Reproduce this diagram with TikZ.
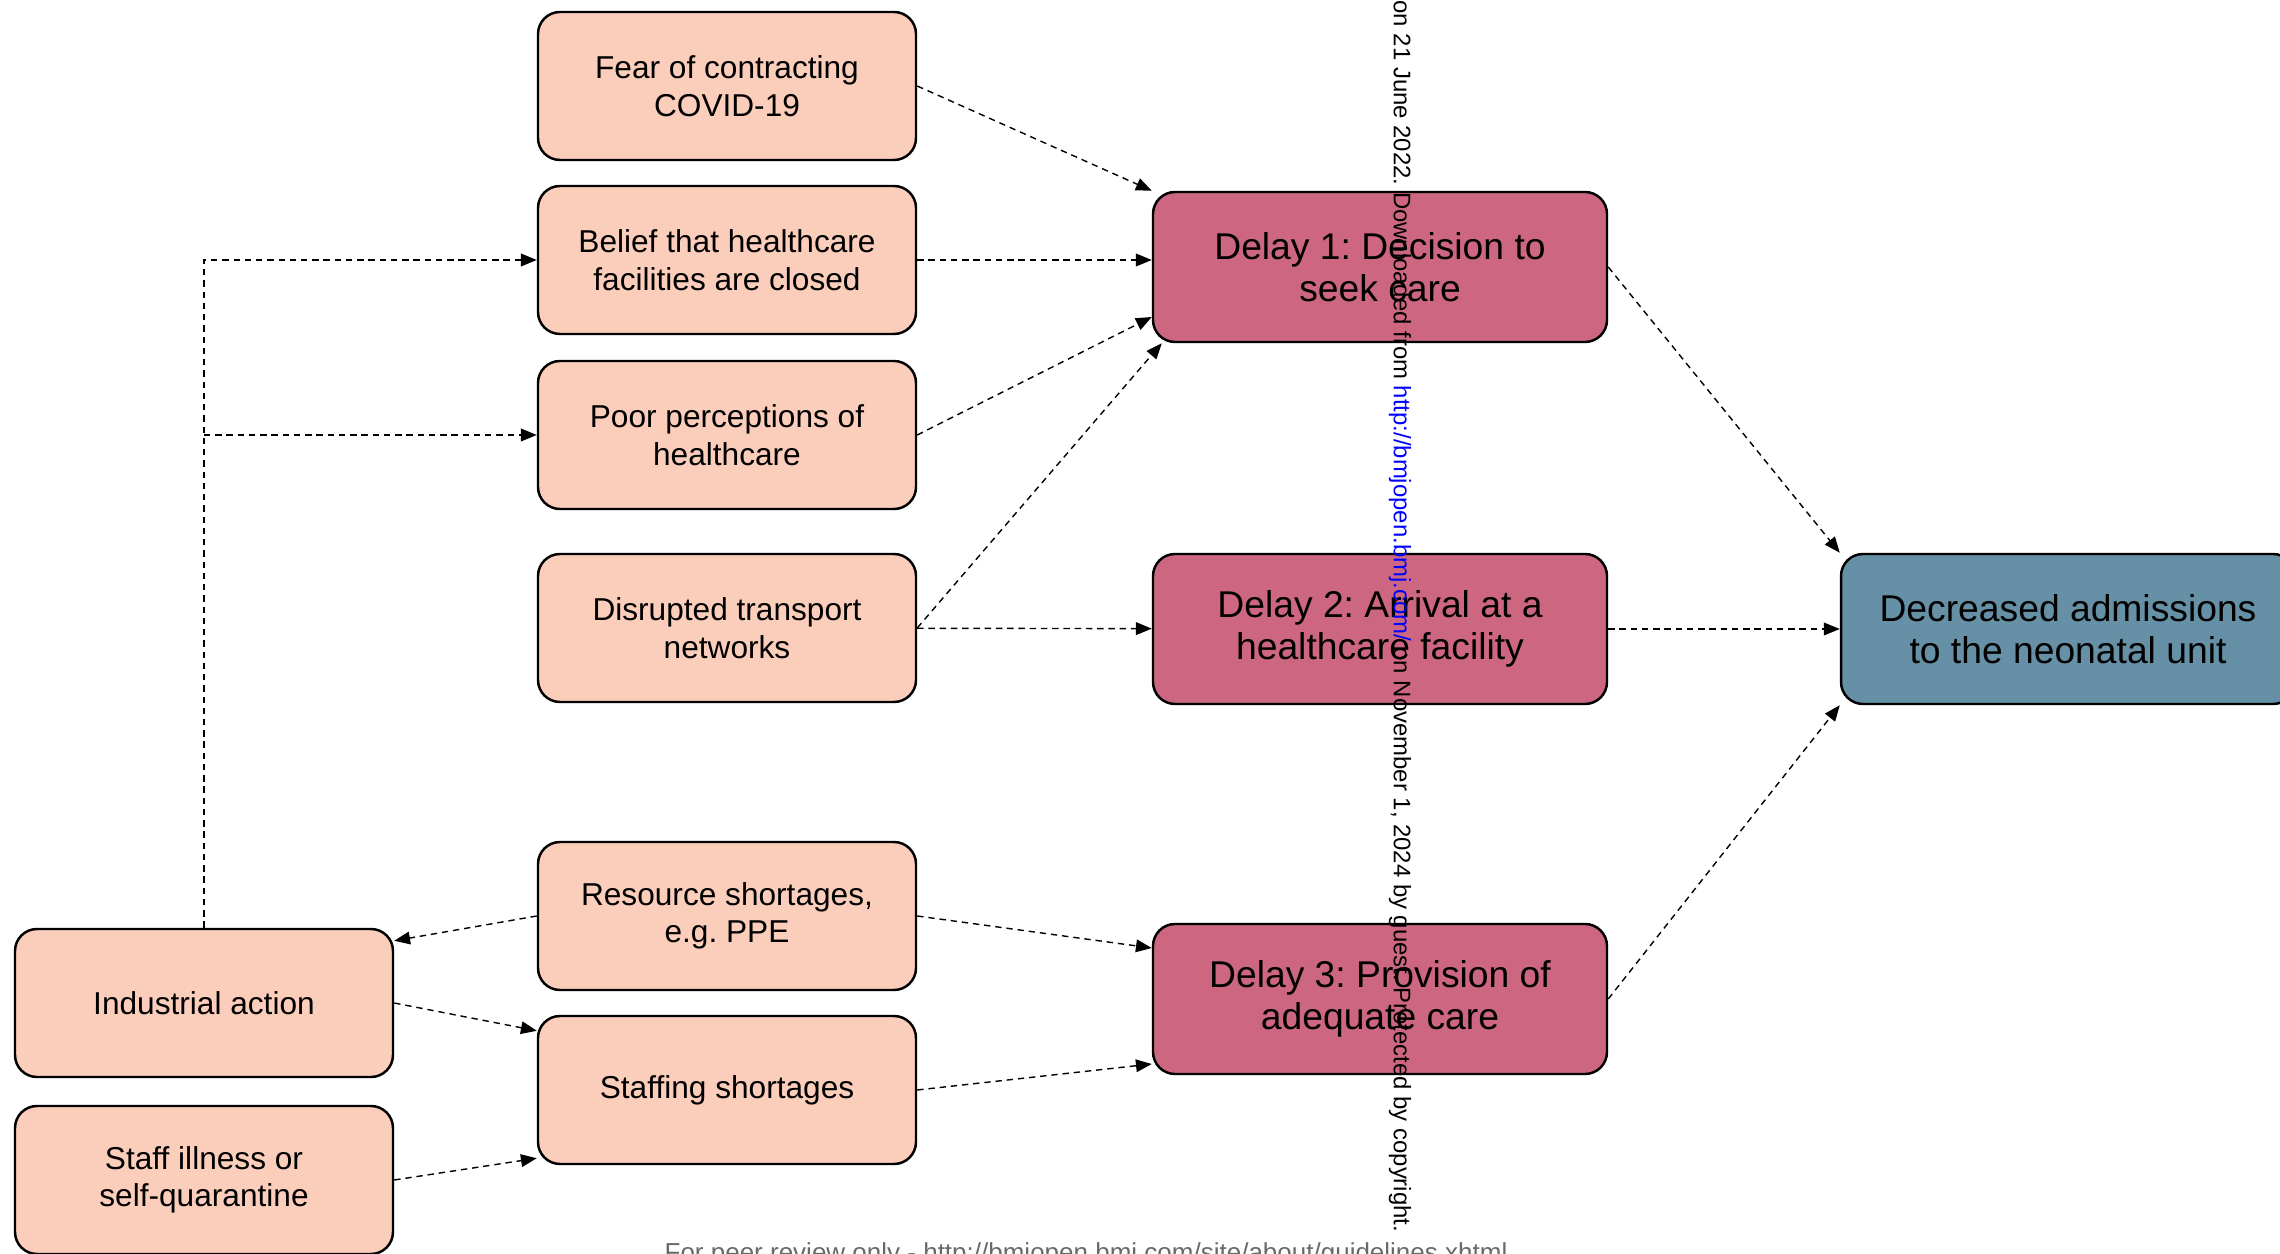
\documentclass[tikz,border=0pt]{standalone}
\usepackage{fontspec}
\setmainfont{Liberation Sans}
\usetikzlibrary{arrows.meta}
\definecolor{causefill}{RGB}{251,206,187}
\definecolor{delayfill}{RGB}{205,102,128}
\definecolor{outfill}{RGB}{102,144,166}
\definecolor{footgray}{RGB}{105,105,105}
\frenchspacing
\begin{document}
\begin{tikzpicture}[
        cause/.style={draw=black, line width=0.7pt, rounded corners=0.22cm, fill=causefill, align=center, minimum width=3.78cm, minimum height=1.48cm, font=\fontsize{9}{10.7}\selectfont},
        delay/.style={draw=black, line width=0.7pt, rounded corners=0.22cm, fill=delayfill, align=center, minimum width=4.54cm, minimum height=1.50cm, font=\fontsize{10.6}{12.1}\selectfont},
        outcome/.style={delay, fill=outfill},
        link/.style={-{Triangle[length=4.5pt, width=3.6pt]}, line width=0.4pt, dash pattern=on 1.8pt off 1.4pt}
    ]
        \useasboundingbox (0, 0) rectangle (22.8, -12.54);

        \path (7.27, -0.86)  node[cause](fear)       {Fear of contracting\\COVID-19};
        \path (7.27, -2.60)  node[cause](belief)     {Belief that healthcare\\facilities are closed};
        \path (7.27, -4.35)  node[cause](poor)       {Poor perceptions of\\healthcare};
        \path (7.27, -6.28)  node[cause](transport)  {Disrupted transport\\networks};
        \path (7.27, -9.16)  node[cause](resource)   {Resource shortages,\\e.g. PPE};
        \path (7.27, -10.90) node[cause](staffing)   {Staffing shortages};
        \path (2.04, -10.03) node[cause](industrial) {Industrial action};
        \path (2.04, -11.80) node[cause](illness)    {Staff illness or\\self-quarantine};

        \path (13.80, -2.67) node[delay](delay1)     {Delay 1: Decision to\\seek care};
        \path (13.80, -6.29) node[delay](delay2)     {Delay 2: Arrival at a\\healthcare facility};
        \path (13.80, -9.99) node[delay](delay3)     {Delay 3: Provision of\\adequate care};
        \path (20.68, -6.29) node[outcome](admissions) {Decreased admissions\\to the neonatal unit};

        \draw[link] (fear.east) -- (delay1.north west);
        \draw[link] (belief) -- (belief.east -| delay1.west);
        \draw[link] (poor.east) -- ([yshift=-0.5cm]delay1.west);
        \draw[link] (transport.east) -- ([xshift=0.1cm]delay1.south west);
        \draw[link] (transport) -- (delay2);

        \draw[link] (resource.east) -- ([yshift=0.51cm]delay3.west);
        \draw[link] (staffing.east) -- ([yshift=-0.65cm]delay3.west);
        \draw[link] (resource.west) -- ([yshift=-0.13cm]industrial.north east);
        \draw[link] (industrial.east) -- ([yshift=-0.16cm]staffing.north west);
        \draw[link] (illness.east) -- ([yshift=0.07cm]staffing.south west);

        \draw[link] (industrial.north) -- (industrial.north |- belief.west) -- (belief.west);
        \draw[link] (industrial.north |- poor.west) -- (poor.west);

        \draw[link] (delay1.east) -- (admissions.north west);
        \draw[link] (delay2) -- (admissions);
        \draw[link] (delay3.east) -- (admissions.south west);

        \path (14.0, 0) node[rotate=-90, anchor=west, inner sep=0pt, font=\fontsize{6.8}{8}\selectfont](stamp) {on 21 June 2022. Downloaded from \textcolor{blue}{http://bmjopen.bmj.com/} on November 1, 2024 by guest. Protected by copyright.};
        \path (10.86, -12.42) node[anchor=north, inner sep=0pt, text=footgray, font=\fontsize{7.4}{9}\selectfont](footer) {For peer review only - http://bmjopen.bmj.com/site/about/guidelines.xhtml};
    \end{tikzpicture}
\end{document}
